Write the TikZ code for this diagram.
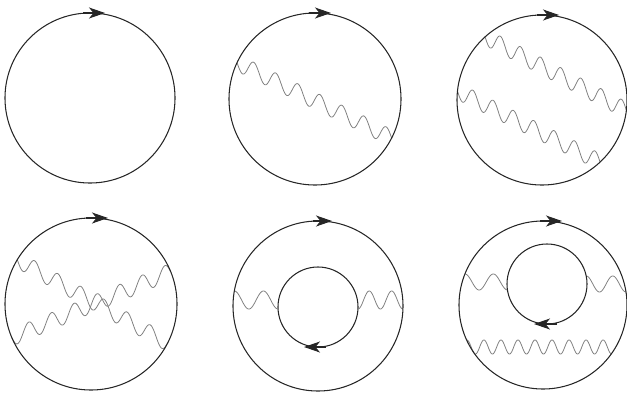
\documentclass[tikz,border=0pt]{standalone}
\usetikzlibrary{arrows.meta}
% wavy photon line: x1 y1 x2 y2 periods amplitude phase
\newcommand\wavyline[7]{\draw[photon] plot[domain=0:1,samples=500] ({#1+\x*(#3-#1)},{#2+\x*(#4-#2)+#6*sin(#5*360*\x+#7)});}
\begin{document}
\begin{tikzpicture}[x=0.04cm,y=-0.04cm,
  fermion/.style={line width=1.2pt,draw=black!85},
  photon/.style={line width=0.9pt,draw=black!50},
  flowtip/.style={draw=black!85,line width=1.2pt,-{Stealth[length=6.4mm,width=4.4mm,inset=1.8mm]}}]
\useasboundingbox (0,0) rectangle (627,394);
% centres
\coordinate (c1) at (90,98);
\coordinate (c2) at (315,99);
\coordinate (c3) at (542,100);
\coordinate (c4) at (91,304);
\coordinate (c5) at (318,306);
\coordinate (i5) at (318,307);
\coordinate (c6) at (543,305);
\coordinate (i6) at (547,284);
% photons
\wavyline{237.1}{62.7}{391.6}{138}{7}{8.5}{0}
\wavyline{485.1}{36.8}{626.4}{110.4}{7}{8.5}{0}
\wavyline{457.5}{91.1}{600}{162}{7}{8.5}{0}
\wavyline{17.3}{259.7}{167.6}{343}{6.5}{8.5}{0}
\wavyline{11.8}{337.6}{170.7}{271.8}{7}{8.5}{0}
\wavyline{234.3}{300}{278}{300}{1.5}{9}{270}
\wavyline{358}{300}{402.9}{300}{2}{9}{90}
\wavyline{464.9}{282}{507.5}{282}{1.5}{8}{270}
\wavyline{586.2}{284}{626}{284}{1.5}{8}{270}
\wavyline{466.9}{347}{611.6}{347}{8.5}{7}{270}
% fermion loops
\draw[fermion] (c1) circle[radius=3.4cm];
\draw[fermion] (c2) circle[radius=3.44cm];
\draw[fermion] (c3) circle[radius=3.4cm];
\draw[fermion] (c4) circle[radius=3.44cm];
\draw[fermion] (c5) circle[radius=3.4cm];
\draw[fermion] (i5) circle[radius=1.6cm];
\draw[fermion] (c6) circle[radius=3.36cm];
\draw[fermion] (i6) circle[radius=1.6cm];
% arrows
\coordinate (a1s) at (83,13);   \coordinate (a1e) at (105,13);
\coordinate (a2s) at (309,13);  \coordinate (a2e) at (331,13);
\coordinate (a3s) at (537,15);  \coordinate (a3e) at (559,15);
\coordinate (a4s) at (86,218);  \coordinate (a4e) at (108,218);
\coordinate (a5s) at (313,221); \coordinate (a5e) at (332,221);
\coordinate (b5s) at (326,347); \coordinate (b5e) at (304,347);
\coordinate (a6s) at (540,221); \coordinate (a6e) at (562,221);
\coordinate (b6s) at (557,324); \coordinate (b6e) at (534,324);
\foreach \s/\e in {a1s/a1e,a2s/a2e,a3s/a3e,a4s/a4e,a5s/a5e,b5s/b5e,a6s/a6e,b6s/b6e}
  \draw[flowtip] (\s) -- (\e);
\end{tikzpicture}
\end{document}
